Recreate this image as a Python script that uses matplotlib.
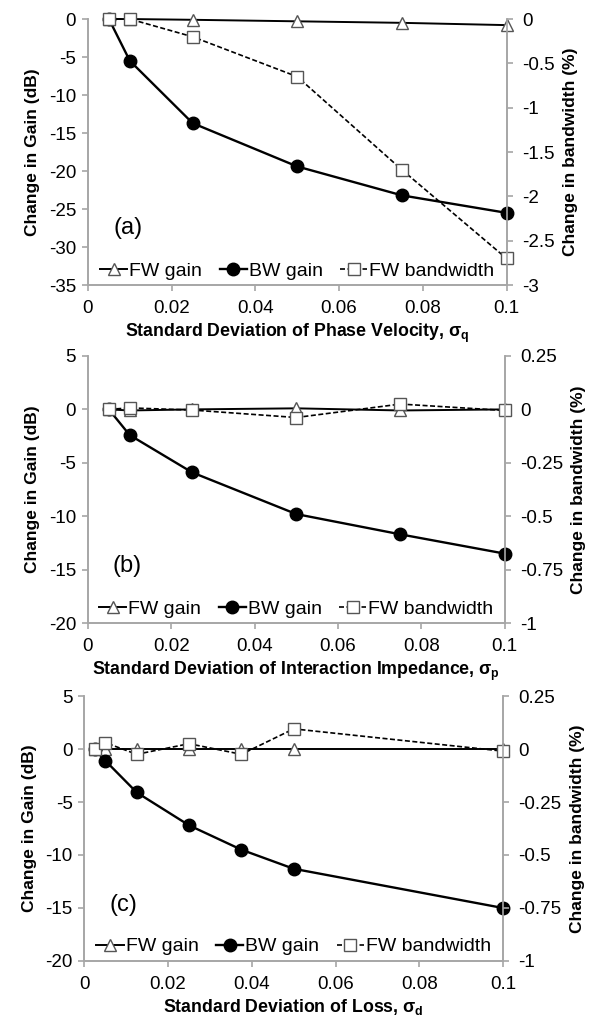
import matplotlib
matplotlib.use('Agg')
import matplotlib.pyplot as plt
import numpy as np

plt.rcParams['font.family'] = ['Liberation Sans', 'DejaVu Sans']
plt.rcParams['axes.unicode_minus'] = False
plt.rcParams['mathtext.fontset'] = 'custom'
plt.rcParams['mathtext.bf'] = 'Liberation Sans:bold'
plt.rcParams['mathtext.rm'] = 'Liberation Sans'

# (a) phase velocity
x_a = [0.005, 0.01, 0.025, 0.05, 0.075, 0.1]
fw_gain_a = [0, 0, -0.1, -0.3, -0.5, -0.8]
bw_gain_a = [0, -5.5, -13.7, -19.4, -23.2, -25.5]
fw_bw_a = [0, 0, -0.2, -0.65, -1.7, -2.7]

# (b) interaction impedance
x_b = [0.005, 0.01, 0.025, 0.05, 0.075, 0.1]
fw_gain_b = [0, -0.1, 0, 0.1, -0.1, 0]
bw_gain_b = [0, -2.4, -5.9, -9.8, -11.7, -13.5]
fw_bw_b = [0, 0.007, -0.003, -0.038, 0.025, -0.005]

# (c) loss
x_c = [0.0025, 0.005, 0.0125, 0.025, 0.0375, 0.05, 0.1]
fw_gain_c = [0, 0, 0, 0, 0, 0, 0]
bw_gain_c = [0, -1.1, -4.1, -7.2, -9.5, -11.3, -15.0]
fw_bw_c = [0, 0.03, -0.025, 0.025, -0.025, 0.095, -0.01]

panels = [
    dict(x=x_a, fw=fw_gain_a, bw=bw_gain_a, band=fw_bw_a, tag='(a)',
         ylim=(-35, 0), yticks=np.arange(-35, 1, 5), ylim2=(-3, 0), yticks2=np.arange(-3, 0.01, 0.5),
         xlabel='Standard Deviation of Phase Velocity, σ$_\\mathbf{q}$',
         pos=[0.1469, 0.720, 0.6987, 0.2613]),
    dict(x=x_b, fw=fw_gain_b, bw=bw_gain_b, band=fw_bw_b, tag='(b)',
         ylim=(-20, 5), yticks=np.arange(-20, 6, 5), ylim2=(-1, 0.25), yticks2=np.arange(-1, 0.26, 0.25),
         xlabel='Standard Deviation of Interaction Impedance, σ$_\\mathbf{p}$',
         pos=[0.1469, 0.388, 0.6955, 0.2623]),
    dict(x=x_c, fw=fw_gain_c, bw=bw_gain_c, band=fw_bw_c, tag='(c)',
         ylim=(-20, 5), yticks=np.arange(-20, 6, 5), ylim2=(-1, 0.25), yticks2=np.arange(-1, 0.26, 0.25),
         xlabel='Standard Deviation of Loss, σ$_\\mathbf{d}$',
         pos=[0.1409, 0.056, 0.6988, 0.2603]),
]

spine_c = '#a6a6a6'
fig = plt.figure(figsize=(5.99, 10.18), dpi=100)

for p in panels:
    ax = fig.add_axes(p['pos'])
    ax2 = ax.twinx()
    l1, = ax.plot(p['x'], p['fw'], color='black', lw=1.4, marker='^', ms=9,
                  mfc='white', mec='#555555', mew=1, label='FW gain', clip_on=False, zorder=3)
    l2, = ax.plot(p['x'], p['bw'], color='black', lw=1.7, marker='o', ms=9,
                  mfc='black', mec='black', label='BW gain', clip_on=False, zorder=4)
    l3, = ax2.plot(p['x'], p['band'], color='black', lw=1.2, ls=(0, (3, 1.5)), marker='s', ms=9,
                   mfc='white', mec='#555555', mew=1, label='FW bandwidth', clip_on=False)

    ax.set_xlim(0, 0.1)
    ax.set_xticks(np.arange(0, 0.101, 0.02))
    ax.set_ylim(*p['ylim'])
    ax.set_yticks(p['yticks'])
    ax2.set_ylim(*p['ylim2'])
    ax2.set_yticks(p['yticks2'])
    ax.xaxis.set_major_formatter(plt.FormatStrFormatter('%g'))
    ax.yaxis.set_major_formatter(plt.FormatStrFormatter('%g'))
    ax2.yaxis.set_major_formatter(plt.FormatStrFormatter('%g'))

    for a in (ax, ax2):
        a.spines['top'].set_visible(False)
        for s in ('left', 'right', 'bottom'):
            a.spines[s].set_color(spine_c)
            a.spines[s].set_linewidth(1.2)
        a.tick_params(colors=spine_c, labelcolor='black', labelsize=13.5, length=4, width=1.2, pad=4.5)
    ax.tick_params(axis='x', pad=7)
    ax2.tick_params(axis='y', pad=7)

    ax.set_ylabel('Change in Gain (dB)', fontsize=12.5, fontweight='bold', labelpad=6)
    ax2.set_ylabel('Change in bandwidth (%)', fontsize=12.5, fontweight='bold', labelpad=6)
    ax.set_xlabel(p['xlabel'], fontsize=12.8, fontweight='bold', labelpad=3)

    ax.text(0.06, 0.19, p['tag'], transform=ax.transAxes, fontsize=17)

    ax2.legend([l1, l2, l3], ['FW gain', 'BW gain', 'FW bandwidth'], loc='lower center',
               ncol=3, frameon=False, fontsize=14, handlelength=1.4, handletextpad=0.1,
               columnspacing=0.9, bbox_to_anchor=(0.5, -0.045))

fig.savefig('out.png', dpi=100)
